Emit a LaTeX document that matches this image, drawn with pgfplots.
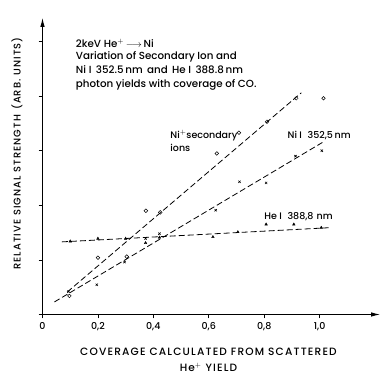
\documentclass[border=0pt]{standalone}
\usepackage{fontspec}
\setmainfont{Poppins Medium}
\newfontfamily\capsfont[LetterSpace=11]{Poppins Medium}
\usepackage{pgfplots}
\pgfplotsset{compat=1.18}
\usetikzlibrary{arrows.meta}
\begin{document}
\begin{tikzpicture}[x=1pt,y=1pt]
\useasboundingbox (-42.5,-62.5) rectangle (338.5,314.5);
\begin{axis}[
  at={(0,0)}, anchor=south west,
  scale only axis, width=337.5pt, height=296.5pt,
  xmin=0, xmax=1.218, ymin=0, ymax=5.43,
  axis lines=left,
  axis line style={line width=0.8pt, -{Latex[length=9pt,width=4.5pt]}},
  xtick={0,0.2,0.4,0.6,0.8,1.0},
  xticklabels={0,{0,2},{0,4},{0,6},{0,8},{1,0}},
  ytick={0,1,2,3,4,5}, yticklabels={},
  tick align=outside, major tick length=4pt,
  tick style={line width=0.7pt, black},
  xticklabel style={font=\fontsize{9.5}{10}\selectfont},
  clip=false,
]
% Ni+ secondary ions
\addplot[only marks, mark=o, mark size=1.8pt, mark options={line width=0.5pt}] coordinates {
 (0.097,0.34) (0.2,1.04) (0.304,1.06) (0.373,1.90) (0.425,1.87)
 (0.629,2.95) (0.709,3.33) (0.81,3.53) (0.916,3.96) (1.014,3.96)};
% Ni I 352.5 nm
\addplot[only marks, mark=x, mark size=1.6pt, mark options={line width=0.6pt}] coordinates {
 (0.094,0.42) (0.196,0.545) (0.296,0.96) (0.372,1.39) (0.422,1.48)
 (0.625,1.91) (0.711,2.43) (0.807,2.41) (0.913,2.90) (1.008,3.0)};
% He I 388.8 nm
\addplot[only marks, mark=triangle*, mark size=1.5pt] coordinates {
 (0.1,1.34) (0.2,1.39) (0.3,1.39) (0.372,1.31) (0.422,1.41)
 (0.615,1.42) (0.705,1.51) (0.807,1.65) (0.907,1.65) (1.006,1.59)};
% fitted dashed lines
\addplot[line width=0.8pt, dash pattern=on 6pt off 3pt] coordinates {(0.089,0.41) (0.934,4.06)};
\addplot[line width=0.8pt, dash pattern=on 6pt off 3pt] coordinates {(0.043,0.23) (1.01,3.15)};
\addplot[line width=0.8pt, dash pattern=on 6pt off 3pt] coordinates {(0.07,1.33) (1.036,1.59)};
% annotations
\node[anchor=west, font=\fontsize{10.3}{11}\selectfont] at (axis cs:0.108,4.97) {2keV He$^+$\,$\longrightarrow$\,Ni};
\node[anchor=west, font=\fontsize{10.3}{11}\selectfont] at (axis cs:0.108,4.72) {Variation of Secondary Ion and};
\node[anchor=west, font=\fontsize{10.3}{11}\selectfont] at (axis cs:0.108,4.48) {Ni I\, 352.5\,nm\, and\, He I\, 388.8\,nm};
\node[anchor=west, font=\fontsize{10.3}{11}\selectfont] at (axis cs:0.108,4.20) {photon yields with coverage of CO.};
\node[anchor=west, font=\fontsize{9.5}{10}\selectfont] at (axis cs:0.449,3.27) {Ni$^+$secondary};
\node[anchor=west, font=\fontsize{9.5}{10}\selectfont] at (axis cs:0.449,3.05) {ions};
\node[anchor=west, font=\fontsize{9.5}{10}\selectfont] at (axis cs:0.872,3.27) {Ni I\,\, 352,5\,nm};
\node[anchor=west, font=\fontsize{9.5}{10}\selectfont] at (axis cs:0.788,1.80) {He I\,\, 388,8\,\,nm};
\end{axis}
\node[font=\capsfont\fontsize{10.6}{11}\selectfont] at (166,-37.5) {COVERAGE CALCULATED FROM SCATTERED};
\node[font=\capsfont\fontsize{10.6}{11}\selectfont] at (166,-52.5) {He$^+$ YIELD};
\node[rotate=90, font=\capsfont\fontsize{9.8}{10}\selectfont] at (-25.5,161) {RELATIVE SIGNAL STRENGTH\, (ARB. UNITS)};
\end{tikzpicture}
\end{document}
